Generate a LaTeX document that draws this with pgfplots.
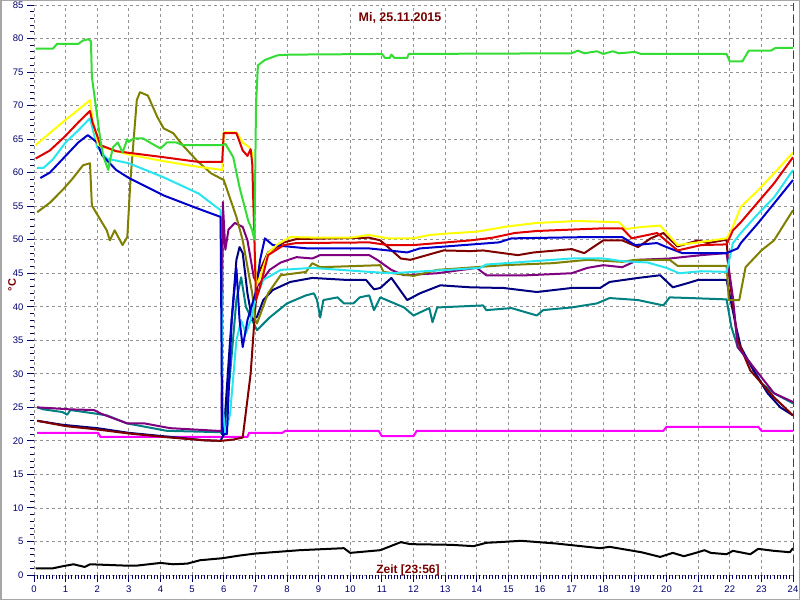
\documentclass[border=0pt]{standalone}
\usepackage{pgfplots}
\pgfplotsset{compat=1.18}
\usepackage{fontspec}
\setmainfont{Liberation Sans}
\definecolor{cgreen}{RGB}{51,221,51}
\definecolor{cyellow}{RGB}{255,255,0}
\definecolor{cred}{RGB}{224,0,0}
\definecolor{ccyan}{RGB}{40,230,240}
\definecolor{cblue}{RGB}{0,0,204}
\definecolor{colive}{RGB}{128,128,0}
\definecolor{cmaroon}{RGB}{128,0,0}
\definecolor{cpurple}{RGB}{128,0,128}
\definecolor{cteal}{RGB}{0,128,128}
\definecolor{cnavy}{RGB}{0,0,128}
\definecolor{cmagenta}{RGB}{255,0,255}
\definecolor{tickcol}{RGB}{0,0,110}
\definecolor{titlecol}{RGB}{120,0,0}
\definecolor{dgreen}{RGB}{0,110,0}
\begin{document}
\begin{tikzpicture}[x=1pt,y=1pt]
\useasboundingbox (0,0) rectangle (800,600);
\fill[white] (0,0) rectangle (800,600);
\begin{axis}[at={(34pt,25pt)}, anchor=south west, scale only axis,
  width=759pt, height=570pt, xmin=0, xmax=24, ymin=0, ymax=85,
  axis line style={draw=none}, tick align=outside,
  xtick={0,1,...,24}, ytick={0,5,...,85},
  minor x tick num=9, minor y tick num=4,
  major tick length=7pt, minor tick length=4pt,
  xtick pos=left, ytick pos=left,
  every tick/.style={draw=tickcol, line width=1pt},
  every minor tick/.style={draw=tickcol, line width=1pt},
  grid=major, major grid style={dash pattern=on 3pt off 3pt, draw=gray!85, line width=0.8pt},
  ticklabel style={font=\fontsize{9.5}{11}\selectfont, text=tickcol},
  /pgf/number format/assume math mode=true,
  clip=false,
  every axis plot/.append style={line width=2pt, no markers, line join=round}]
\addplot[black] coordinates {(0.05,1.0)(0.6,1.0)(0.9,1.3)(1.25,1.6)(1.6,1.2)(1.77,1.6)(2.9,1.4)(3.25,1.4)(4.0,1.8)(4.4,1.6)(4.85,1.7)(5.25,2.2)(5.95,2.5)(6.5,2.9)(7,3.2)(8.4,3.7)(9.8,4.0)(10,3.3)(10.95,3.7)(11.6,4.9)(11.9,4.6)(13.2,4.5)(13.9,4.3)(14.3,4.8)(14.7,4.9)(15.4,5.1)(16.5,4.7)(17.9,4.0)(18.2,4.2)(19.2,3.4)(19.8,2.7)(20.2,3.3)(20.55,2.8)(21,3.4)(21.2,3.7)(21.4,3.3)(21.9,3.1)(22.1,3.6)(22.65,3.1)(22.9,3.9)(23.4,3.6)(23.9,3.4)(24,4.0)};
\addplot[cmagenta] coordinates {(0.1,21.2)(2.03,21.2)(2.1,20.6)(6.75,20.6)(6.8,21.2)(7.85,21.2)(7.95,21.5)(10.9,21.5)(11.0,20.7)(12.0,20.7)(12.1,21.5)(19.9,21.5)(20.0,22.1)(22.9,22.1)(23.0,21.5)(24,21.5)};
\addplot[cteal] coordinates {(0.1,25)(0.3,24.7)(0.9,24.3)(1.05,23.9)(1.15,24.6)(1.9,24.1)(2.3,23.8)(2.95,22.6)(4.2,21.5)(5.9,21.3)(6.0,20.8)(6.2,30)(6.4,41)(6.55,44.4)(6.7,40)(6.9,38)(7.05,36.5)(7.45,38.4)(8.0,40.5)(8.6,41.7)(8.85,42)(8.95,41)(9.05,38.4)(9.15,41)(9.6,41.4)(9.8,40.5)(10.1,40.5)(10.3,41.4)(10.6,41.7)(10.75,39.5)(10.95,41.4)(11.7,39.9)(12,38.7)(12.5,39.8)(12.6,37.7)(12.75,39.9)(14.2,40.2)(14.3,39.5)(15.1,39.8)(15.9,38.7)(16.1,39.5)(17,39.9)(17.8,40.5)(18.2,41.3)(19.1,41)(19.9,40.2)(20.1,41.4)(20.75,41.3)(21.9,41.1)(22.05,37)(22.25,34)(22.65,31.6)(23.0,28.6)(23.4,27.1)(24,25.6)};
\addplot[cnavy] coordinates {(0.1,23)(0.9,22.4)(2,21.9)(3,21.2)(4.3,20.6)(5.35,20.1)(5.9,20)(6.0,21)(6.2,35)(6.4,47)(6.5,48.9)(6.6,48)(6.75,42)(6.9,38)(7.05,38.5)(7.25,41)(7.55,42.5)(8.1,43.7)(8.8,44.3)(9.9,44)(10.5,44)(10.75,42.6)(10.95,42.8)(11.3,44.3)(11.8,41)(12.2,42)(12.85,43.2)(13.8,42.9)(14.85,42.8)(15.9,42.2)(17,42.8)(17.9,42.8)(18.2,43.7)(19.1,44.3)(19.8,44.7)(20.2,42.9)(20.65,43.5)(21,44)(21.9,44)(22.2,37)(22.35,34)(22.75,30.5)(23.2,27.1)(23.6,25)(24,23.8)};
\addplot[cmaroon] coordinates {(0.1,23)(1,22.2)(2,21.7)(3,21.1)(4.3,20.5)(5.35,20.1)(5.9,20)(6.3,20.2)(6.6,20.5)(6.85,30)(7.0,40)(7.1,45)(7.4,48.1)(7.9,49.6)(8.3,50.1)(10.6,50.3)(10.95,49.9)(11.6,47.2)(11.9,47)(12.2,47.4)(12.95,48.4)(13.8,48.3)(14.2,48.4)(15.3,47.7)(15.8,48.1)(17,48.6)(17.4,48)(18,49.9)(18.6,49.9)(19.1,48.9)(19.5,50.2)(19.9,51)(20.35,49)(21,49.9)(21.3,49.5)(21.9,50)(21.97,45)(22.25,35)(22.65,30.5)(23.4,26.5)(24,23.8)};
\addplot[cpurple] coordinates {(0.1,25)(1.15,24.7)(1.9,24.6)(2.1,24.1)(2.95,22.6)(3.5,22.6)(4.3,21.9)(5.8,21.5)(5.93,21.5)(5.97,55.6)(6.05,48.5)(6.15,51.5)(6.35,52.5)(6.6,51.9)(6.75,49.9)(6.95,44.4)(7.1,43.2)(7.45,45.5)(7.8,46.6)(8.3,47.4)(8.8,47.2)(9.05,47.7)(10.6,47.7)(10.85,47)(11.3,45.5)(11.7,44.7)(12.75,45)(14,45.8)(14.3,44.7)(15.6,44.7)(17,45)(17.5,45.8)(18,46.2)(18.6,45.9)(19.1,47)(20.1,47.2)(21.1,47.7)(21.9,48)(22.1,41.4)(22.25,34)(22.65,31.6)(23.4,27.1)(24,25.8)};
\addplot[colive] coordinates {(0.1,54.1)(0.5,55.5)(0.9,57.4)(1.2,59)(1.55,61.1)(1.77,61.4)(1.83,55.1)(2.3,51.4)(2.4,49.9)(2.55,51.4)(2.8,49.2)(2.95,50.4)(3.05,58.9)(3.25,70.8)(3.35,72)(3.6,71.5)(3.9,68.3)(4.1,66.6)(4.4,65.9)(4.7,64.1)(5.15,61.8)(5.6,59.9)(6.0,58.9)(6.4,53.4)(6.6,49.9)(6.9,42)(7.0,38)(7.05,37.5)(7.4,42)(7.8,44.7)(8.6,45.2)(8.8,46.5)(9.05,45.9)(10.95,46.2)(11.05,45.2)(12,44.6)(12.75,45.5)(14.85,46.2)(16.4,46.5)(17.5,47)(18.6,46.7)(19,47)(20.1,47)(20.35,46.1)(21.9,46.1)(21.97,41)(22.3,41)(22.5,45.9)(23,48.4)(23.4,49.9)(24,54.4)};
\addplot[ccyan] coordinates {(0.1,60.7)(0.3,60.7)(0.6,62)(1.0,64.5)(1.4,66.3)(1.77,68.1)(2.0,63.8)(2.3,62.1)(3.0,61.4)(4.1,59.3)(5.2,56.9)(5.9,54.4)(5.97,25)(6.05,21)(6.2,24)(6.4,35)(6.55,38)(6.7,36)(6.85,38)(7.0,41)(7.25,44)(7.8,45.5)(8.8,45.8)(10.6,45.2)(11.3,45)(12,45.2)(14.1,45.8)(14.3,46.3)(17,47.2)(18,47.2)(18.6,46.8)(19.4,46.6)(20,45.8)(20.4,45)(21.1,45.3)(21.9,45.2)(22.1,49.5)(22.35,51)(22.9,53.9)(23.4,56.3)(24,60.4)};
\addplot[cblue] coordinates {(0.2,59.2)(0.5,60)(1.0,62.5)(1.4,64.5)(1.7,65.6)(2.0,64.5)(2.15,62.6)(2.6,60.4)(3.0,59.2)(4.1,56.6)(5.15,54.7)(5.9,53.4)(5.95,21)(6.1,21)(6.25,38)(6.4,45.8)(6.5,38)(6.6,34)(6.75,38)(7.0,42)(7.15,47)(7.3,50.2)(7.55,49.2)(8.65,48.7)(10.6,48.7)(11.8,48.1)(12.2,48.7)(14.7,49.6)(15.1,50.2)(17.6,50.4)(18.6,50.4)(19,49.2)(19.7,49.5)(20,48.9)(20.5,48)(21.9,48)(22.25,48.7)(22.35,49.5)(22.9,52.5)(23.4,55.4)(24,58.9)};
\addplot[cyellow] coordinates {(0.05,64.1)(0.4,65.5)(0.9,67.5)(1.3,69)(1.77,70.8)(1.85,68)(2.03,64.1)(2.5,63.3)(3,62.7)(4,61.8)(5,61)(5.95,60.4)(6.0,66)(6.4,66)(6.6,64.5)(6.8,63.8)(6.9,62.9)(6.95,55)(7.02,43)(7.15,44.5)(7.4,48)(7.7,49.3)(8.1,50.4)(9,50.3)(10,50.3)(10.6,50.7)(11.2,50.2)(12,50.2)(12.5,50.7)(13,50.9)(14,51.2)(15,52)(15.9,52.5)(17.2,52.8)(18.5,52.6)(18.7,51.6)(19.2,51.9)(19.8,52.1)(20.35,49.2)(21,49.6)(21.9,50.2)(22.05,51.4)(22.35,54.9)(22.9,57.4)(23.4,59.9)(24,63)};
\addplot[cred] coordinates {(0.05,62.1)(0.5,63.3)(1,65.5)(1.4,67.5)(1.77,69.2)(1.85,67.5)(2.1,64.1)(2.6,63.2)(4.1,62.3)(5.2,61.6)(5.95,61.6)(6.0,65.9)(6.4,65.9)(6.6,63.3)(6.75,62.5)(6.85,63.5)(6.9,61.4)(6.97,50)(7.02,41)(7.15,43)(7.4,47.7)(7.9,49.2)(8.3,49.5)(10.6,49.6)(11.2,49.2)(12,49.2)(13.8,49.9)(14.5,50.3)(15.2,51)(15.9,51.3)(18,51.7)(18.6,51.7)(18.9,50.2)(19.7,51)(20.35,48.4)(21.1,49.2)(21.9,49.3)(22.1,51.4)(22.35,52.6)(23.4,58.4)(24,62.3)};
\addplot[cgreen] coordinates {(0.05,78.5)(0.6,78.5)(0.73,79.2)(1.4,79.2)(1.55,79.7)(1.72,79.9)(1.8,79.6)(1.83,74.3)(1.93,70.8)(2.1,64.8)(2.2,62.3)(2.35,60.4)(2.4,61.8)(2.5,63.8)(2.65,64.5)(2.8,63)(2.95,65)(3.0,64.6)(3.15,65.1)(3.45,65.1)(3.7,64.4)(4.0,63.6)(4.2,64.5)(4.5,64.5)(4.7,64.1)(5.95,64.1)(6.05,64.3)(6.3,62.3)(6.5,57.8)(6.77,52.9)(6.9,51.4)(6.97,50)(7.02,70)(7.08,76)(7.3,76.8)(7.7,77.5)(8.1,77.6)(11.0,77.7)(11.1,77.1)(11.25,77.1)(11.3,77.6)(11.4,77.1)(11.8,77.1)(11.85,77.7)(17,77.8)(17.2,78.2)(17.4,77.8)(17.8,78.1)(18,77.7)(18.3,78.1)(18.5,77.8)(19,78.0)(19.2,77.7)(21.9,77.7)(22.0,76.6)(22.4,76.6)(22.6,78.2)(23.3,78.2)(23.45,78.6)(24,78.6)};
\draw[dgreen, line width=1pt, dash pattern=on 8pt off 4pt] (axis cs:24,0) -- (axis cs:24,86.5);
\end{axis}
\node[font=\bfseries\fontsize{12.5}{14}\selectfont, text=titlecol] at (400,582) {Mi, 25.11.2015};
\node[font=\bfseries\fontsize{11}{13}\selectfont, text=titlecol, rotate=90] at (12,315) {°C};
\node[font=\bfseries\fontsize{12}{14}\selectfont, text=titlecol] at (408,30) {Zeit [23:56]};
\draw[gray!70, line width=1.5pt] (0.75,0.75) rectangle (799.25,599.25);
\end{tikzpicture}
\end{document}
